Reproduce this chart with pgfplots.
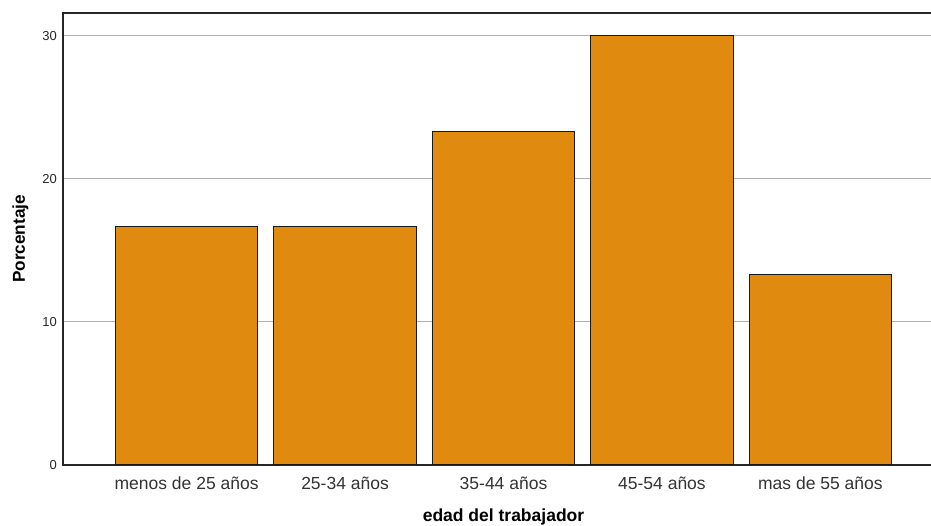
\documentclass[border=0pt]{standalone}
\usepackage{fontspec}
\setmainfont{Liberation Sans}
\usepackage{pgfplots}
\pgfplotsset{compat=1.18}
\definecolor{barorange}{RGB}{224,138,16}
\definecolor{gridgray}{RGB}{176,176,176}
\begin{document}
\begin{tikzpicture}
\begin{axis}[
  at={(0,0)}, anchor=south west,
  scale only axis,
  width=881pt, height=452pt,
  xmin=-0.78, xmax=4.78,
  ymin=0, ymax=31.6,
  xtick={0,1,2,3,4},
  xticklabels={menos de 25 años,25-34 años,35-44 años,45-54 años,mas de 55 años},
  ytick={0,10,20,30},
  major tick length=0pt,
  ymajorgrids,
  grid style={gridgray, line width=1pt},
  axis line style={black!85, line width=1.2pt},
  xticklabel style={font=\fontsize{17.5}{20}\selectfont, text=black!80, anchor=base, yshift=-24.5pt, inner sep=0pt},
  yticklabel style={font=\fontsize{13}{15}\selectfont, text=black!85, anchor=east, inner sep=0pt, xshift=-6pt},
  /pgf/number format/assume math mode=true,
  xlabel={\textbf{edad del trabajador}},
  ylabel={\textbf{Porcentaje}},
  xlabel style={font=\fontsize{17.5}{20}\selectfont, at={(axis description cs:0.5,0)}, anchor=base, yshift=-56.5pt, inner sep=0pt},
  ylabel style={font=\fontsize{17.2}{20}\selectfont, at={(axis description cs:0,0.5)}, anchor=base, yshift=38pt, inner sep=0pt},
]
\addplot[ybar, bar width=0.9, fill=barorange, draw=black!90, line width=1pt] coordinates {
  (0,16.67) (1,16.67) (2,23.33) (3,30.00) (4,13.33)
};
\end{axis}
\pgfresetboundingbox
\path[use as bounding box] (-63pt,-61pt) rectangle (868pt,465pt);
\end{tikzpicture}
\end{document}
